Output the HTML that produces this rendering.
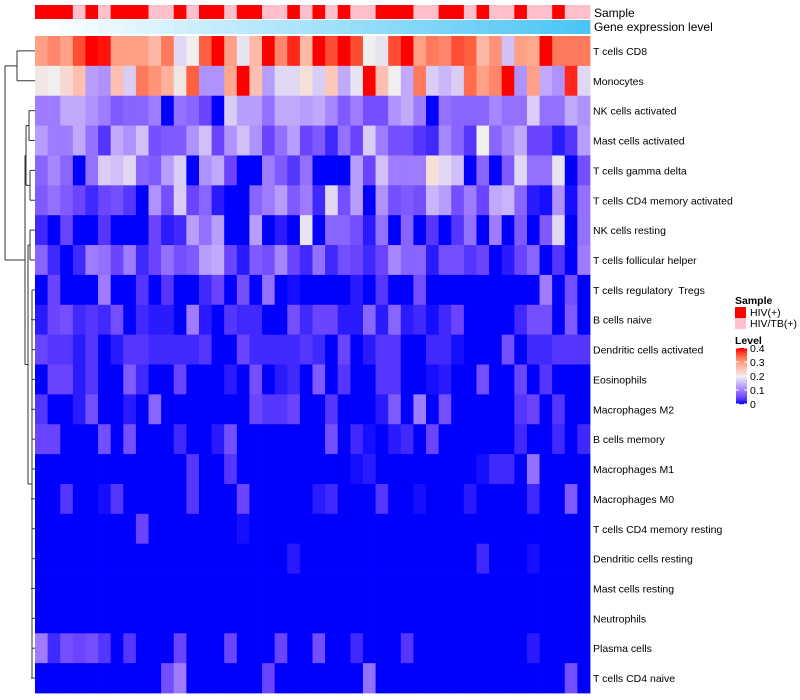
<!DOCTYPE html>
<html><head><meta charset="utf-8"><style>
body{margin:0;background:#fff;}
svg{display:block;font-family:"Liberation Sans",sans-serif;}
text{white-space:pre;}
</style></head><body>
<svg id="chart" width="800" height="700" viewBox="0 0 800 700">
<g id="dendro" stroke="#333" stroke-width="1" fill="none"></g>
<g id="anno"></g>
<g id="cells"></g>
<g id="labels"></g>
<g id="legend"></g>
</svg>
<script>
const rowNames=["T cells CD8","Monocytes","NK cells activated","Mast cells activated","T cells gamma delta","T cells CD4 memory activated","NK cells resting","T cells follicular helper","T cells regulatory  Tregs","B cells naive","Dendritic cells activated","Eosinophils","Macrophages M2","B cells memory","Macrophages M1","Macrophages M0","T cells CD4 memory resting","Dendritic cells resting","Mast cells resting","Neutrophils","Plasma cells","T cells CD4 naive"];
const sampleGroups="RRRPRPRRRPPRPRRPRRPPRPRPRPPRRRPPRRPRPPRPPRPP".split("");
const r0=[.3,.32,.3,.36,.4,.39,.3,.3,.3,.27,.33,.18,.2,.35,.4,.3,.19,.27,.4,.32,.38,.27,.4,.36,.4,.36,.2,.19,.36,.4,.3,.33,.32,.36,.35,.27,.31,.16,.3,.29,.4,.33,.33,.33];
const r1=[.21,.2,.23,.26,.13,.12,.26,.17,.33,.31,.28,.21,.35,.12,.12,.29,.4,.26,.13,.18,.18,.22,.17,.25,.14,.19,.4,.26,.2,.14,.33,.17,.15,.17,.34,.3,.32,.4,.12,.3,.14,.12,.38,.18];
const r2=[.1,.1,.14,.14,.12,.1,.07,.08,.08,.1,0,.09,.08,.05,0,.17,.13,.13,.09,.14,.14,.13,.14,.11,.07,.1,.06,.06,.12,.14,.1,0,.09,.08,.08,.08,.11,.09,.09,.17,.09,.09,.14,.12];
const r3=[.13,.1,.1,.14,.09,.04,.14,.12,.16,.06,.07,.07,.12,.16,.05,.12,.16,.12,.05,.09,.13,.05,.07,.03,.09,.05,.17,.1,.06,.06,.04,.03,.11,.08,.04,.2,.08,.11,.14,.05,.05,.02,.04,.13];
const r4=[.08,.11,.08,0,.09,.17,.16,.18,.08,.07,.13,.17,0,.12,.14,.05,0,0,.1,.07,.04,.09,0,0,0,.13,.05,.16,.1,.1,.1,.22,.18,.16,0,.08,0,.07,.18,.09,.09,.19,0,.06];
const r5=[.07,.09,.07,.05,.03,.05,.06,.04,0,.12,.06,.17,.05,.08,.02,0,0,.08,.1,.13,.07,.1,.03,.18,.06,.13,0,.12,.06,.07,.06,.15,.13,.06,.1,.05,.14,.15,.08,.02,.01,.12,.01,.09];
const r6=[.03,0,.05,0,0,.04,0,0,0,.05,.02,.03,.13,.09,.13,0,0,.13,0,.02,0,.19,0,.08,.08,.06,.02,.09,0,.08,0,.04,0,.04,.09,0,.1,0,.07,0,.07,.18,0,.09];
const r7=[.08,.03,0,.03,.1,.09,.05,.1,.03,.05,.09,.06,.07,.13,.14,.05,.02,.07,.06,.11,.05,.03,.09,.03,.06,.05,.03,.05,.11,.08,.08,.02,.06,.06,.04,.05,0,.02,.05,.08,0,.04,0,.1];
const r8=[0,.05,0,0,0,.1,0,0,.04,0,.04,0,0,.03,.05,0,.06,0,.09,0,.01,0,0,0,0,.02,0,.04,0,0,.06,0,0,0,0,0,0,0,0,0,.1,0,.06,0];
const r9=[.02,.05,.06,.03,.04,.03,.06,0,.03,.02,.02,0,.1,.02,0,.04,.03,.03,0,0,.06,.03,.05,.05,.02,.02,.08,.02,.08,.02,.03,.01,.03,.05,0,0,0,0,.03,.06,.06,0,.07,0];
const r10=[.05,.04,.04,.02,.04,0,.02,.04,.04,.03,.03,.03,.03,.04,0,0,.05,.03,.03,.03,.03,.04,.03,0,.05,0,.02,.04,.04,0,0,.03,.03,.01,0,0,0,.06,0,.03,.03,.04,.04,.04];
const r11=[0,.05,.05,.02,.04,0,0,.07,.03,0,0,.05,0,0,0,.02,0,.06,0,.02,.03,0,.07,0,.04,0,0,.04,.04,0,0,.01,.02,0,0,.06,0,0,.05,0,.04,0,0,0];
const r12=[.04,0,0,.02,.06,0,0,.02,0,.08,0,0,0,0,0,0,0,.05,.04,.04,.05,0,0,.04,0,0,0,.02,.07,0,.1,0,.06,0,0,0,0,0,.04,.05,0,.04,0,0];
const r13=[.05,.05,0,0,0,.06,0,.06,0,0,0,.03,0,0,.02,.06,0,0,0,0,0,0,0,.06,0,.03,.01,0,.02,.03,0,.05,0,0,0,0,0,0,.03,0,0,.03,0,.03];
const r14=[0,0,0,0,0,0,0,0,0,0,0,0,.04,0,0,.04,0,0,0,0,0,0,0,0,0,.01,.02,0,0,0,0,0,0,0,0,.01,.03,.03,0,.09,0,0,0,0];
const r15=[0,0,.04,0,0,.01,.04,0,0,0,0,0,.04,0,0,0,.05,0,0,0,0,0,.02,.03,0,0,0,.04,0,0,.01,0,0,0,.02,0,0,0,0,.03,0,0,.07,0];
const r16=[0,0,0,0,0,0,0,0,.05,0,0,0,0,0,0,0,.01,0,0,0,0,0,0,0,0,0,0,0,0,0,0,0,0,0,0,0,0,0,0,0,0,0,0,0];
const r17=[0,0,0,0,0,0,0,0,0,0,0,0,0,0,0,0,0,0,0,0,.02,0,0,0,0,0,0,0,0,0,0,0,0,0,0,.03,0,0,0,.01,0,0,0,0];
const r18=[0,0,0,0,0,0,0,0,0,0,0,0,0,0,0,0,0,0,0,0,0,0,0,0,0,0,0,0,0,0,0,0,0,0,0,0,0,0,0,0,0,0,0,0];
const r19=[0,0,0,0,0,0,0,0,0,0,0,0,0,0,0,0,0,0,0,0,0,0,0,0,0,0,0,0,0,0,0,0,0,0,0,0,0,0,0,0,0,0,0,0];
const r20=[.1,.03,.06,.05,.06,.04,0,.04,0,0,0,.05,0,0,0,.05,0,0,0,.05,0,0,.06,0,0,.03,0,0,0,.04,0,0,0,0,0,0,0,0,0,.02,0,0,0,0];
const r21=[0,0,0,0,0,0,0,0,0,0,.06,.1,0,0,0,0,0,0,.05,0,0,0,0,0,0,0,.09,0,0,0,0,0,0,0,0,0,0,0,0,0,0,0,.06,0];
const values=[r0,r1,r2,r3,r4,r5,r6,r7,r8,r9,r10,r11,r12,r13,r14,r15,r16,r17,r18,r19,r20,r21];
const legendTicks=[0,0.1,0.2,0.3,0.4];

const NS="http://www.w3.org/2000/svg";
const X0=35,X1=590,Y0=36,Y1=693;
const nC=r0.length,nR=values.length;
const cw=(X1-X0)/nC,rh=(Y1-Y0)/nR;
const xPos=c=>X0+c*cw, yPos=r=>Y0+r*rh;
const stops=[[0,[0,0,255]],[.05,[106,68,255]],[.1,[158,123,255]],[.15,[201,181,250]],[.2,[240,238,238]],[.25,[252,200,186]],[.3,[255,160,134]],[.35,[255,96,64]],[.4,[255,0,0]]];
function col(v){v=Math.max(0,Math.min(.4,v));for(let i=1;i<stops.length;i++){if(v<=stops[i][0]){const a=stops[i-1],b=stops[i],t=(v-a[0])/(b[0]-a[0]);return "rgb("+a[1].map((x,k)=>Math.round(x+(b[1][k]-x)*t)).join(",")+")";}}return "rgb(255,0,0)";}
function mk(tag,attrs,parent){const e=document.createElementNS(NS,tag);for(const k in attrs)e.setAttribute(k,attrs[k]);parent.appendChild(e);return e;}
const cells=document.getElementById('cells');
values.forEach((row,r)=>row.forEach((v,c)=>{
 const e=mk('rect',{x:xPos(c),y:yPos(r),width:cw+0.4,height:rh+0.4,fill:col(v)},cells);
 
 
}));
const anno=document.getElementById('anno');
sampleGroups.forEach((g,c)=>{
 const e=mk('rect',{x:xPos(c),y:5,width:cw+0.4,height:14,fill:g==="R"?"#FF0000":"#FFC0CB"},anno);
 
 
 const t=c/(nC-1);
 const g2=mk('rect',{x:xPos(c),y:20,width:cw+0.4,height:14,fill:"rgb("+Math.round(255-(255-76)*t)+","+Math.round(255-(255-197)*t)+","+Math.round(255-(255-245)*t)+")"},anno);
 
 
});
const t1=mk('text',{x:594,y:17,'font-size':12},anno);t1.textContent="Sample";


const t2=mk('text',{x:594,y:31,'font-size':12},anno);t2.textContent="Gene expression level";


const labels=document.getElementById('labels');
rowNames.forEach((n,r)=>{
 const e=mk('text',{x:593,y:yPos(r)+rh/2+4,'font-size':10.5},labels);e.textContent=n;
 
 
});
const d=document.getElementById('dendro');
const cy=r=>yPos(r)+rh/2;
function seg(x1,y1,x2,y2){mk('line',{x1,y1,x2,y2},d);}
function link(xa,ya,xb,yb,xn){seg(xa,ya,xn,ya);seg(xb,yb,xn,yb);seg(xn,ya,xn,yb);}
link(35,cy(0),35,cy(1),17);
link(35,cy(2),35,cy(3),29);
link(35,cy(4),35,cy(5),30);
link(29,(cy(2)+cy(3))/2,30,(cy(4)+cy(5))/2,26);
link(35,cy(6),35,cy(7),30);
let ly=(cy(6)+cy(7))/2;
for(let r=8;r<22;r++){const nx=31+((r%3)*0.7);seg(35,cy(r),nx,cy(r));}
seg(32,cy(8),32,cy(21));
link(30,ly,32,(cy(8)+cy(21))/2,28);
link(26,(cy(2)+cy(5))/2,28,(ly+(cy(8)+cy(21))/2)/2,25);
const topY=(cy(0)+cy(1))/2, botY=((cy(2)+cy(5))/2+(ly+(cy(8)+cy(21))/2)/2)/2;
link(17,topY,25,botY,5);
const lg=document.getElementById('legend');
const ls=mk('text',{x:735,y:304,'font-size':10.5,'font-weight':'bold'},lg);ls.textContent="Sample";


[["#FF0000","HIV(+)"],["#FFC0CB","HIV/TB(+)"]].forEach((p,i)=>{
 const r=mk('rect',{x:735,y:307+i*11,width:11,height:11,fill:p[0]},lg);
 
 
 const t=mk('text',{x:750,y:316+i*11,'font-size':10.5},lg);t.textContent=p[1];
 
 
});
const lv=mk('text',{x:735,y:344,'font-size':10.5,'font-weight':'bold'},lg);lv.textContent="Level";


const CB0=348,CB1=404;
for(let i=0;i<56;i++){const v=0.4*(1-i/56);mk('rect',{x:736,y:CB0+i,width:11,height:1.2,fill:col(v)},lg);}
legendTicks.forEach(v=>{
 const y=CB1-(v/0.4)*(CB1-CB0);
 mk('line',{x1:736,y1:y,x2:739,y2:y,stroke:'#fff','stroke-width':1},lg);
 mk('line',{x1:744,y1:y,x2:747,y2:y,stroke:'#fff','stroke-width':1},lg);
 const t=mk('text',{x:750,y:y+4,'font-size':10.5},lg);t.textContent=String(v);
 
 
});
</script>
</body></html>
